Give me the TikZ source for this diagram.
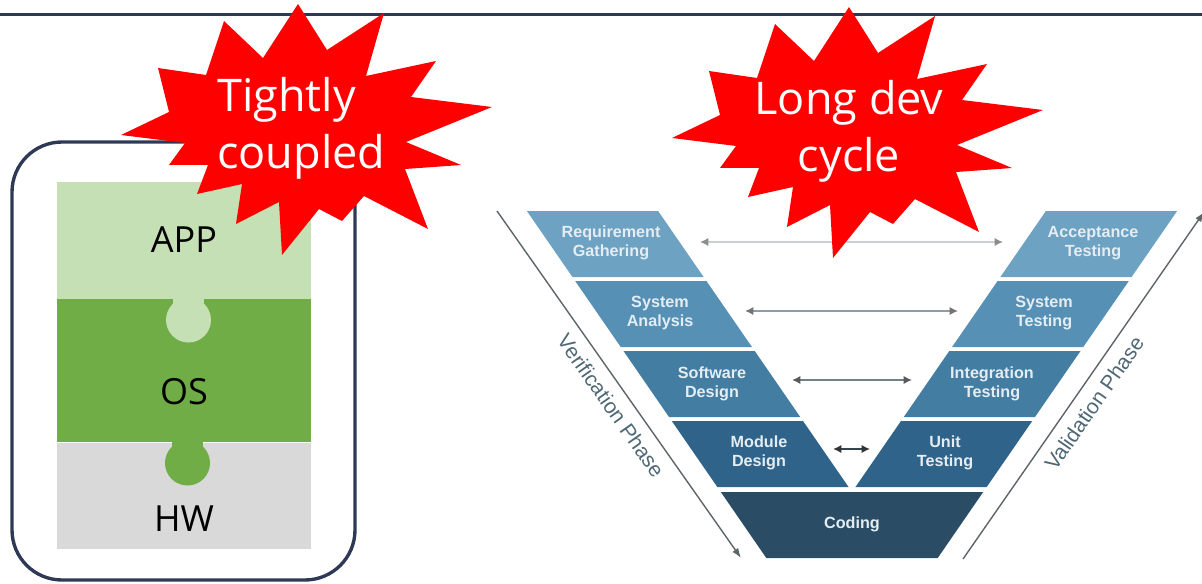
\documentclass[tikz,border=0pt]{standalone}
\usepackage{fontspec}
\newfontfamily\uifont{Open Sans}
\newfontfamily\vfont{Liberation Sans}
\usetikzlibrary{arrows.meta}

\definecolor{navy}{HTML}{2E3A55}
\definecolor{appgreen}{HTML}{C5E0B4}
\definecolor{osgreen}{HTML}{70AD47}
\definecolor{hwgrey}{HTML}{D9D9D9}
\definecolor{burstred}{HTML}{FF0000}
\definecolor{vrowa}{HTML}{6EA2C2}
\definecolor{vrowb}{HTML}{5690B5}
\definecolor{vrowc}{HTML}{437DA2}
\definecolor{vrowd}{HTML}{30638A}
\definecolor{vrowe}{HTML}{2A4D65}
\definecolor{vtext}{HTML}{E4EDF3}
\definecolor{phasegrey}{HTML}{5E6568}
\definecolor{phasetext}{HTML}{4F6876}
\definecolor{linka}{HTML}{C9D0D4}
\definecolor{linkb}{HTML}{8E9CA3}
\definecolor{linkc}{HTML}{6F8088}
\definecolor{linkd}{HTML}{34444C}

\tikzset{
  layer text/.style={font=\uifont\fontsize{25.6}{30}\selectfont, text=black, inner sep=0pt},
  burst text/.style={font=\uifont\fontsize{32}{40.5}\selectfont, text=white, inner sep=0pt},
  row text/.style={font=\vfont\bfseries\fontsize{11.5}{13.5}\selectfont, text=vtext, align=center, inner sep=0pt},
  phase arrow/.style={draw=phasegrey, line width=1pt, -{Latex[length=7pt,width=5pt]}},
  phase label/.style={font=\vfont\fontsize{15}{17}\selectfont, text=phasetext},
  link/.style 2 args={draw=#1, line width=2pt,
    {Latex[length=6pt,width=6pt,color=#2]}-{Latex[length=6pt,width=6pt,color=#2]}},
  % red explosion, drawn around (849,130)
  burst/.pic={
    \fill[burstred] (849,7) -- (878,53) -- (935,16) -- (917,79) -- (987,64) -- (962,100)
      -- (1043,110) -- (957,145) -- (1012,168) -- (956,172) -- (979,232) -- (915,199)
      -- (893,224) -- (870,212) -- (833,258) -- (830,205) -- (787,227) -- (793,187)
      -- (748,197) -- (759,168) -- (720,168) -- (736,146) -- (672,138) -- (720,115)
      -- (709,71) -- (757,78) -- (775,24) -- (814,61) -- cycle;
  },
}

% one row of the V (both arms): top, bottom, colour
\newcommand\vrow[3]{%
  \pgfmathsetmacro\vot{85+0.69*(559-#1)}%
  \pgfmathsetmacro\vob{85+0.69*(559-#2)}%
  \pgfmathsetmacro\vit{0.69*(492-#1)}%
  \pgfmathsetmacro\vib{0.69*(492-#2)}%
  \fill[#3] (852-\vot,#1) -- (852-\vit,#1) -- (852-\vib,#2) -- (852-\vob,#2) -- cycle;
  \fill[#3] (852+\vot,#1) -- (852+\vit,#1) -- (852+\vib,#2) -- (852+\vob,#2) -- cycle;
}

\begin{document}
\begin{tikzpicture}[x=0.025cm, y=-0.025cm]
  \useasboundingbox (0,0) rectangle (1202,584);

  % header rule
  \draw[navy, line width=2.2pt] (0,14.5) -- (1202,14.5);

  % V model
  \vrow{211}{277}{vrowa}
  \vrow{281}{347}{vrowb}
  \vrow{351}{417}{vrowc}
  \vrow{421}{487}{vrowd}
  \fill[vrowe] (720.8,492) -- (983.2,492) -- (937.7,558) -- (766.3,558) -- cycle;

  \node[row text] (req) at (611,243) {Requirement\\Gathering};
  \node[row text] (sysan) at (660,313) {System\\Analysis};
  \node[row text] (swdes) at (712,384) {Software\\Design};
  \node[row text] (moddes) at (759,453) {Module\\Design};
  \node[row text] (coding) at (852,524) {Coding};
  \node[row text] (accept) at (1093,243) {Acceptance\\Testing};
  \node[row text] (systest) at (1044,313) {System\\Testing};
  \node[row text] (integ) at (992,384) {Integration\\Testing};
  \node[row text] (unittest) at (945,453) {Unit\\Testing};

  % links between matching rows
  \coordinate (reqtip) at (700,242);   \coordinate (accepttip) at (1003,242);
  \coordinate (sysantip) at (745,311); \coordinate (systesttip) at (958,311);
  \coordinate (swdestip) at (792,380); \coordinate (integtip) at (912,380);
  \coordinate (moddestip) at (833,449); \coordinate (unittip) at (870,449);
  \draw[link={linka}{black!45}] (reqtip) -- (accepttip);
  \draw[link={linkb}{black!55}] (sysantip) -- (systesttip);
  \draw[link={linkc}{black!65}] (swdestip) -- (integtip);
  \draw[link={linkd}{black!80}] (moddestip) -- (unittip);

  % phase arrows
  \coordinate (vertop) at (497,211); \coordinate (verbot) at (741,558);
  \coordinate (valbot) at (963,559); \coordinate (valtop) at (1204,212);
  \draw[phase arrow] (vertop) -- node[phase label, sloped, below=4pt, pos=0.53] (verlabel) {Verification Phase} (verbot);
  \draw[phase arrow] (valbot) -- node[phase label, sloped, below=4pt, pos=0.48] (vallabel) {Validation Phase} (valtop);

  % device frame with stacked layers
  \draw[navy, line width=2.4pt, rounded corners=1.25cm] (12,142) rectangle (355,580);
  \fill[appgreen] (57,182) rectangle (311,299);
  \fill[osgreen] (57,299) rectangle (311,441.5);
  \fill[hwgrey] (57,442.5) rectangle (311,549);
  \fill[appgreen] (173,298) rectangle (204,315);
  \fill[appgreen] (188.5,320) circle[radius=0.5625cm];
  \fill[osgreen] (172,440) rectangle (203,458);
  \fill[osgreen] (187.5,463) circle[radius=0.5625cm];
  \node[layer text] (app) at (184,240) {APP};
  \node[layer text] (os) at (184,392) {OS};
  \node[layer text] (hw) at (184,519) {HW};

  % explosions
  \pic at (0,0) {burst};
  \pic at (-551,-3) {burst};
  \node[burst text, align=center] (longdev) at (849,131) {Long dev\\cycle};
  \node[burst text, align=left, anchor=west] (tight) at (217,128) {Tightly\\coupled};
\end{tikzpicture}
\end{document}
